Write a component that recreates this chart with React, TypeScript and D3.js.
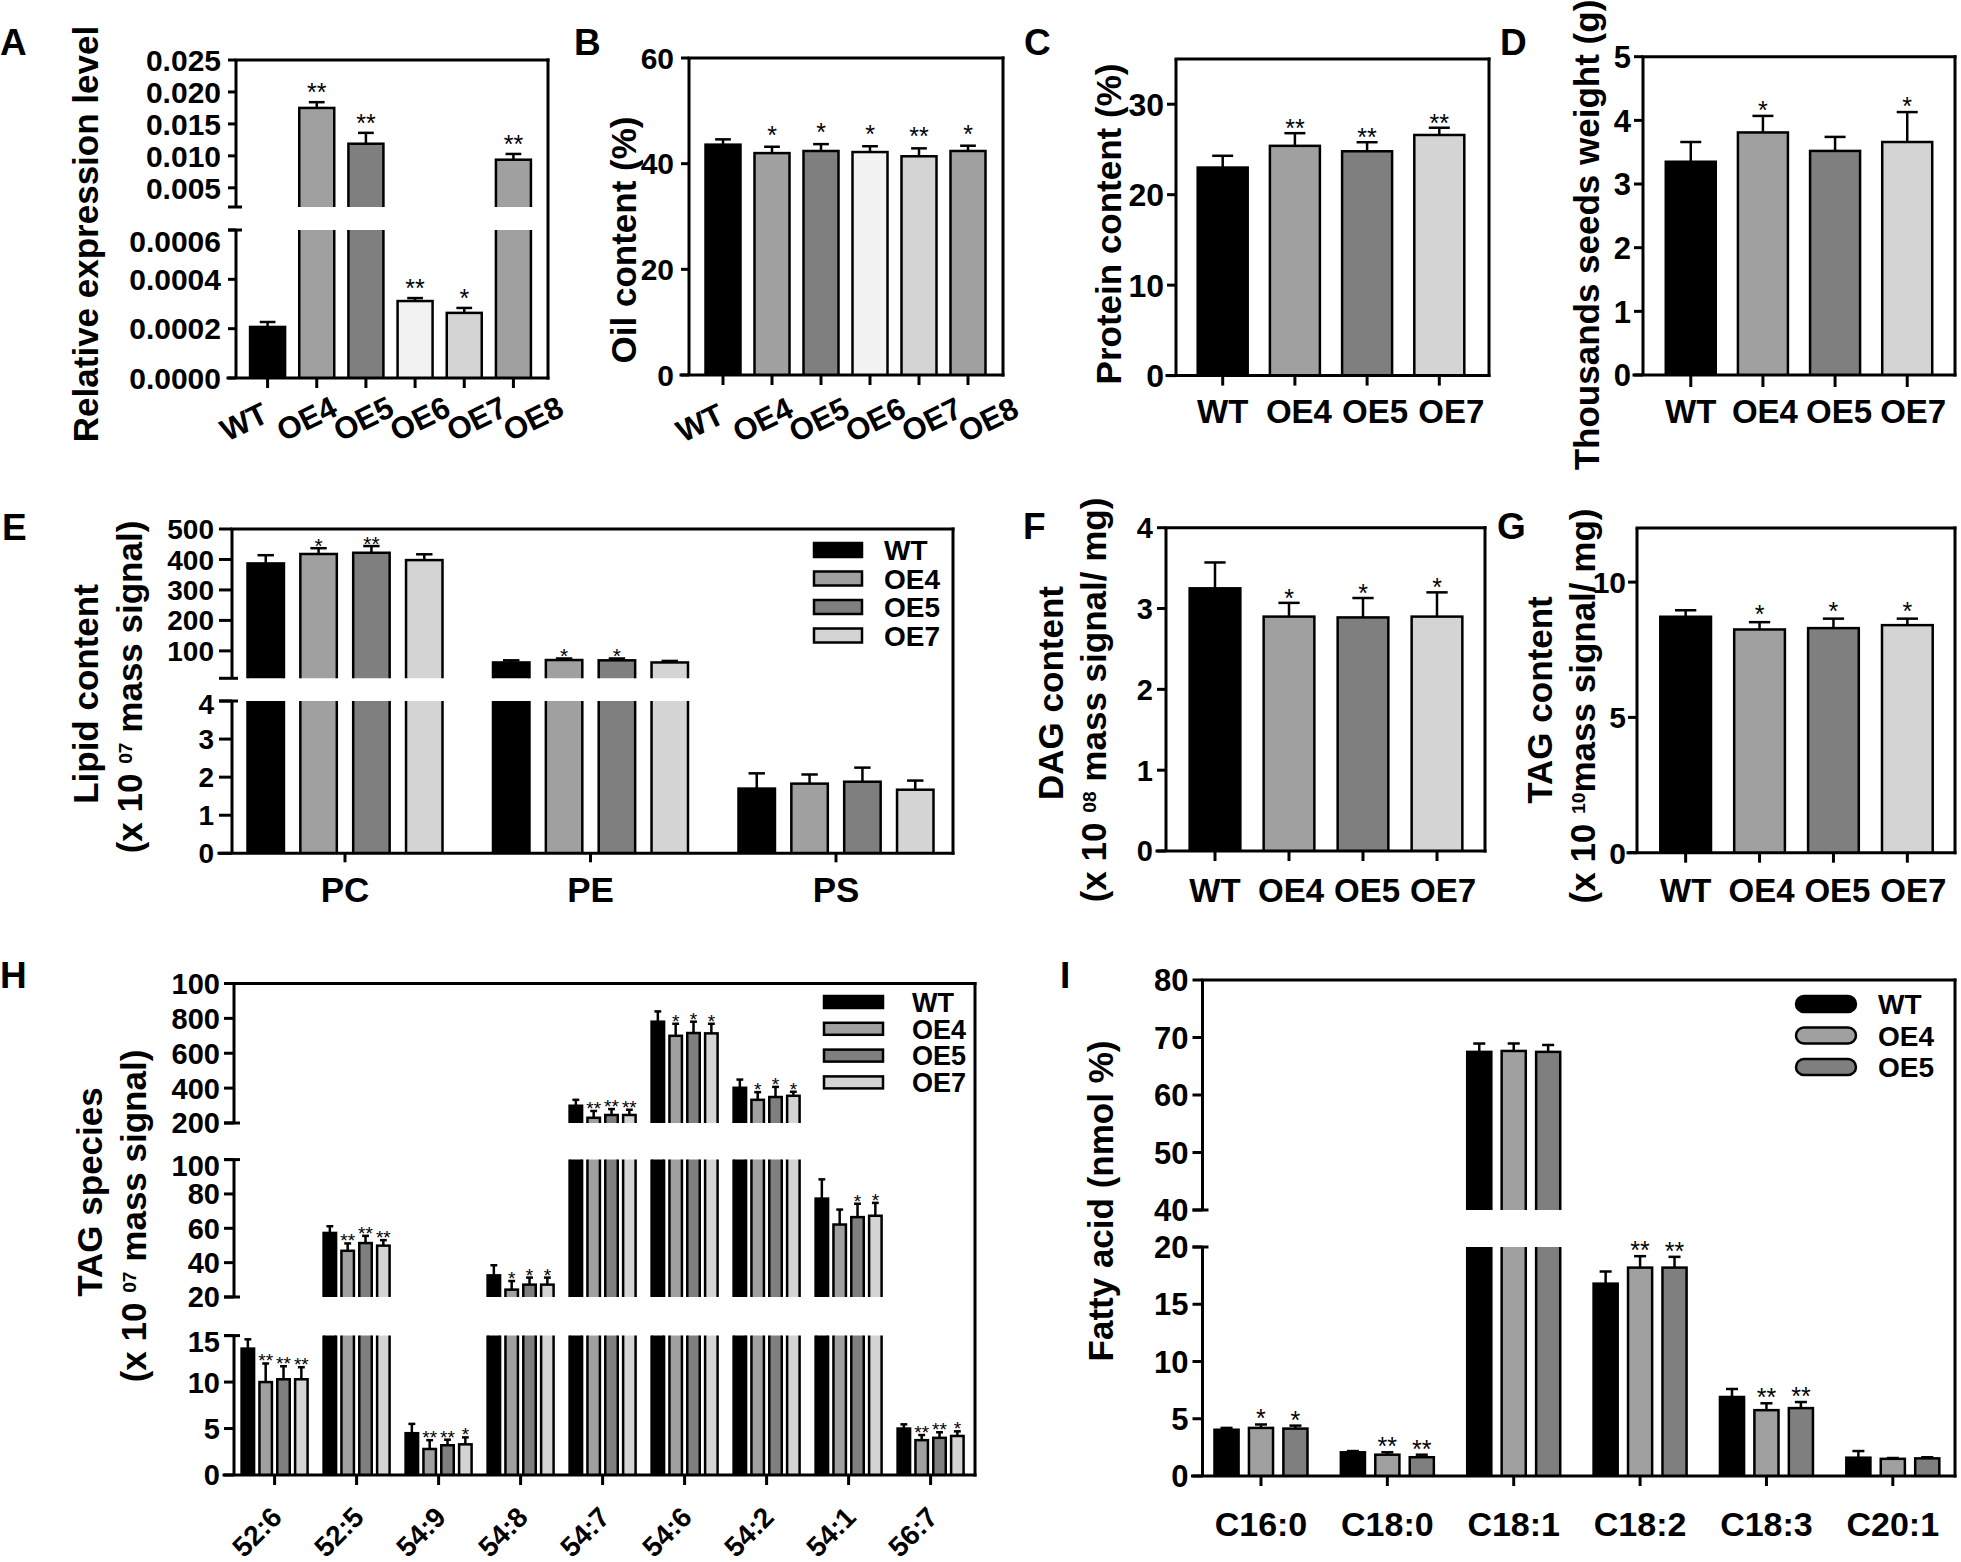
import React, { useEffect, useRef } from "react";
import * as d3 from "d3";

const FONT = "'Liberation Sans', Arial, Helvetica, sans-serif";

// colours
const colWT = "#000000";
const colOE4 = "#a0a0a0";
const colOE5 = "#7f7f7f";
const colOE6 = "#f2f2f2";
const colOE7 = "#d4d4d4";
const colOE8 = "#a0a0a0";

// ---- Panel A & B ----
const linesAB = ["WT", "OE4", "OE5", "OE6", "OE7", "OE8"];
const colorsAB = [colWT, colOE4, colOE5, colOE6, colOE7, colOE8];
const exprA = [0.000207, 0.0175, 0.0119, 0.000312, 0.000264, 0.0094];
const exprErrA = [0.00002, 0.0009, 0.0017, 0.000012, 0.00002, 0.0009];
const exprSigA = ["", "**", "**", "**", "*", "**"];
const ticksALow = [0, 0.0002, 0.0004, 0.0006];
const ticksAHigh = [0.005, 0.01, 0.015, 0.02, 0.025];

const oilB = [43.6, 42.0, 42.4, 42.2, 41.4, 42.4];
const oilErrB = [1.0, 1.2, 1.3, 1.1, 1.5, 1.0];
const oilSigB = ["", "*", "*", "*", "**", "*"];
const ticksB = [0, 20, 40, 60];

// ---- Panels C, D, F, G ----
const linesCD = ["WT", "OE4", "OE5", "OE7"];
const colorsCD = [colWT, colOE4, colOE5, colOE7];
const proteinC = [23.0, 25.4, 24.8, 26.6];
const proteinErrC = [1.3, 1.4, 1.0, 0.8];
const proteinSigC = ["", "**", "**", "**"];
const ticksC = [0, 10, 20, 30];

const weightD = [3.35, 3.81, 3.52, 3.66];
const weightErrD = [0.31, 0.26, 0.22, 0.47];
const weightSigD = ["", "*", "", "*"];
const ticksD = [0, 1, 2, 3, 4, 5];

const dagF = [3.25, 2.9, 2.89, 2.9];
const dagErrF = [0.32, 0.17, 0.24, 0.3];
const dagSigF = ["", "*", "*", "*"];
const ticksF = [0, 1, 2, 3, 4];

const tagG = [8.72, 8.25, 8.3, 8.41];
const tagErrG = [0.24, 0.27, 0.35, 0.24];
const tagSigG = ["", "*", "*", "*"];
const ticksG = [0, 5, 10];

// ---- Panel E ----
const lipidClasses = ["PC", "PE", "PS"];
const seriesNames = ["WT", "OE4", "OE5", "OE7"];
const seriesColors = [colWT, colOE4, colOE5, colOE7];
const lipidWT = [387, 62, 1.7];
const lipidOE4 = [418, 70, 1.83];
const lipidOE5 = [422, 69, 1.88];
const lipidOE7 = [398, 62, 1.67];
const lipidErrWT = [27, 7, 0.4];
const lipidErrOE4 = [19, 5, 0.24];
const lipidErrOE5 = [22, 6, 0.37];
const lipidErrOE7 = [19, 5, 0.24];
const lipidSigWT = ["", "", ""];
const lipidSigOE4 = ["*", "*", ""];
const lipidSigOE5 = ["**", "*", ""];
const lipidSigOE7 = ["", "", ""];
const ticksELow = [0, 1, 2, 3, 4];
const ticksEHigh = [100, 200, 300, 400, 500];

// ---- Panel H ----
const tagSpecies = ["52:6", "52:5", "54:9", "54:8", "54:7", "54:6", "54:2", "54:1", "56:7"];
const speciesWT = [13.6, 57.3, 4.5, 32.6, 299, 781, 402, 77.3, 5.0];
const speciesOE4 = [10.0, 46.9, 2.8, 24.3, 230, 700, 333, 62.2, 3.75];
const speciesOE5 = [10.3, 51.4, 3.2, 27.2, 246, 716, 349, 66.5, 4.0];
const speciesOE7 = [10.3, 49.9, 3.3, 27.2, 246, 714, 356, 67.3, 4.2];
const speciesErrWT = [1.0, 3.9, 1.0, 5.9, 34, 59, 47, 11.2, 0.45];
const speciesErrOE4 = [2.0, 4.3, 0.95, 5.0, 39, 69, 44, 8.7, 0.55];
const speciesErrOE5 = [1.4, 4.2, 0.6, 4.1, 34, 65, 58, 7.8, 0.6];
const speciesErrOE7 = [1.3, 3.2, 0.75, 4.1, 30, 55, 23, 7.5, 0.5];
const speciesSigWT = ["", "", "", "", "", "", "", "", ""];
const speciesSigOE4 = ["**", "**", "**", "*", "**", "*", "*", "", "**"];
const speciesSigOE5 = ["**", "**", "**", "*", "**", "*", "*", "*", "**"];
const speciesSigOE7 = ["**", "**", "*", "*", "**", "*", "*", "*", "*"];
const ticksHLow = [0, 5, 10, 15];
const ticksHMid = [20, 40, 60, 80, 100];
const ticksHHigh = [200, 400, 600, 800, 1000];
const tickLabelsHHigh = ["200", "400", "600", "800", "100"];

// ---- Panel I ----
const fattyAcids = ["C16:0", "C18:0", "C18:1", "C18:2", "C18:3", "C20:1"];
const faNames = ["WT", "OE4", "OE5"];
const faColors = [colWT, colOE4, colOE5];
const faWT = [4.04, 2.07, 67.5, 16.8, 6.9, 1.6];
const faOE4 = [4.2, 1.86, 67.66, 18.2, 5.75, 1.5];
const faOE5 = [4.14, 1.64, 67.5, 18.2, 5.93, 1.54];
const faErrWT = [0.16, 0.11, 1.45, 1.06, 0.7, 0.58];
const faErrOE4 = [0.3, 0.21, 1.3, 1.0, 0.6, 0.07];
const faErrOE5 = [0.26, 0.22, 1.2, 0.94, 0.53, 0.1];
const faSigWT = ["", "", "", "", "", ""];
const faSigOE4 = ["*", "**", "", "**", "**", ""];
const faSigOE5 = ["*", "**", "", "**", "**", ""];
const ticksILow = [0, 5, 10, 15, 20];
const ticksIHigh = [40, 50, 60, 70, 80];

function drawPanel(svg: any, defs: any, o: any) {
  const g = svg.append("g");
  const xb = d3.scaleBand().domain(o.cats).range(o.xRange);
  const step = xb.bandwidth();
  const nS = o.series.length;
  const inner = d3
    .scaleBand()
    .domain(d3.range(nS) as any)
    .range([-o.groupW / 2, o.groupW / 2])
    .paddingInner(nS > 1 ? o.innerPad : 0);
  const bw = inner.bandwidth();
  const cxOf = (c: string) => (xb(c) as number) + step / 2;
  const segs = o.segs;
  const nSeg = segs.length;
  const yBottom = segs[0].range[0];
  const yTop = segs[nSeg - 1].range[1];
  const scales = segs.map((s: any) => d3.scaleLinear().domain(s.domain).range(s.range));
  const segOf = (v: number) => {
    let idx = 0;
    segs.forEach((s: any, k: number) => {
      if (v >= s.domain[0]) idx = k;
    });
    return idx;
  };
  const lw = 3;
  const bsw = 2.5;

  // bars, clipped per axis segment
  segs.forEach((s: any, k: number) => {
    const y = scales[k];
    const cid = `clip-${o.id}-${k}`;
    defs
      .append("clipPath")
      .attr("id", cid)
      .append("rect")
      .attr("x", o.x0)
      .attr("y", s.range[1])
      .attr("width", o.x1 - o.x0)
      .attr("height", s.range[0] - s.range[1]);
    const gb = g.append("g").attr("clip-path", `url(#${cid})`);
    o.series.forEach((ser: any, si: number) => {
      o.cats.forEach((c: string, ci: number) => {
        const v = ser.values[ci];
        const yt = Math.max(y(v), s.range[1] - 10);
        const yb = s.range[0] + 10;
        if (yt >= yb) return;
        gb.append("rect")
          .attr("x", cxOf(c) + (inner(si as any) as number))
          .attr("y", yt)
          .attr("width", bw)
          .attr("height", yb - yt)
          .attr("fill", ser.colors ? ser.colors[ci] : ser.color)
          .attr("stroke", "#000")
          .attr("stroke-width", bsw);
      });
    });
  });

  // error bars + significance
  o.series.forEach((ser: any, si: number) => {
    o.cats.forEach((c: string, ci: number) => {
      const v = ser.values[ci];
      const k = segOf(v);
      const y = scales[k];
      const xm = cxOf(c) + (inner(si as any) as number) + bw / 2;
      const yv = y(v);
      const ye = y(v + ser.errs[ci]);
      const cap = bw * o.capFrac;
      g.append("line").attr("x1", xm).attr("x2", xm).attr("y1", yv).attr("y2", ye)
        .attr("stroke", "#000").attr("stroke-width", bsw);
      g.append("line").attr("x1", xm - cap / 2).attr("x2", xm + cap / 2).attr("y1", ye).attr("y2", ye)
        .attr("stroke", "#000").attr("stroke-width", bsw);
      if (ser.sigs[ci]) {
        g.append("text")
          .attr("x", xm)
          .attr("y", ye + o.sigDy)
          .attr("text-anchor", "middle")
          .attr("font-family", FONT)
          .attr("font-size", o.sigSize)
          .text(ser.sigs[ci]);
      }
    });
  });

  // y axis segments
  const ax = g.append("g").attr("stroke", "#000").attr("stroke-width", lw).attr("fill", "none");
  segs.forEach((s: any, k: number) => {
    const y = scales[k];
    ax.append("line").attr("x1", o.x0).attr("x2", o.x0).attr("y1", s.range[0]).attr("y2", s.range[1]);
    s.ticks.forEach((t: number, ti: number) => {
      const ty = y(t);
      ax.append("line").attr("x1", o.x0 - o.tickLen).attr("x2", o.x0).attr("y1", ty).attr("y2", ty);
      const lab = s.labels ? s.labels[ti] : s.fmt ? s.fmt(t) : String(t);
      const dy = ti === s.ticks.length - 1 && k < nSeg - 1 ? o.segTopDy || 0 : 0;
      g.append("text")
        .attr("x", o.x0 - o.tickLen - o.tickGap)
        .attr("y", ty + dy)
        .attr("dy", "0.36em")
        .attr("text-anchor", "end")
        .attr("font-family", FONT)
        .attr("font-weight", "bold")
        .attr("font-size", o.tickSize)
        .text(lab);
    });
    if (k > 0)
      ax.append("line").attr("x1", o.x0 - o.tickLen).attr("x2", o.x0 + 6).attr("y1", s.range[0]).attr("y2", s.range[0]);
    if (k < nSeg - 1)
      ax.append("line").attr("x1", o.x0 - o.tickLen).attr("x2", o.x0 + 6).attr("y1", s.range[1]).attr("y2", s.range[1]);
  });

  // frame
  ax.append("line").attr("x1", o.x0).attr("x2", o.x1).attr("y1", yTop).attr("y2", yTop).attr("stroke-linecap", "square");
  ax.append("line").attr("x1", o.x1).attr("x2", o.x1).attr("y1", yTop).attr("y2", yBottom).attr("stroke-linecap", "square");
  ax.append("line").attr("x1", o.x0 - o.tickLen).attr("x2", o.x1).attr("y1", yBottom).attr("y2", yBottom).attr("stroke-linecap", "square");

  // x ticks & labels
  o.cats.forEach((c: string, ci: number) => {
    const cx = cxOf(c);
    ax.append("line").attr("x1", cx).attr("x2", cx).attr("y1", yBottom).attr("y2", yBottom + o.xTickLen);
    const xl = o.xLabels;
    const t = g.append("text")
      .attr("font-family", FONT)
      .attr("font-weight", "bold")
      .attr("font-size", xl.size)
      .text(c);
    if (xl.mode === "flat") {
      t.attr("x", cx + ci * (xl.spread || 0)).attr("y", xl.y).attr("text-anchor", "middle");
    } else if (xl.mode === "rotStart") {
      const px = xl.x0 + ci * xl.step;
      t.attr("text-anchor", "start").attr("transform", `translate(${px},${xl.y}) rotate(${xl.angle})`);
    } else {
      t.attr("text-anchor", "end").attr("transform", `translate(${cx + xl.dx},${xl.y}) rotate(${xl.angle})`);
    }
  });

  // legend
  if (o.legend) {
    const L = o.legend;
    o.series.forEach((ser: any, si: number) => {
      const yc = L.y0 + si * L.dy;
      g.append("rect")
        .attr("x", L.x)
        .attr("y", yc - L.h / 2)
        .attr("width", L.w)
        .attr("height", L.h)
        .attr("rx", L.rx || 0)
        .attr("fill", ser.color)
        .attr("stroke", "#000")
        .attr("stroke-width", 2.5);
      g.append("text")
        .attr("x", L.textX)
        .attr("y", yc)
        .attr("dy", "0.36em")
        .attr("font-family", FONT)
        .attr("font-weight", "bold")
        .attr("font-size", L.size)
        .text(ser.name);
    });
  }
}

function yTitle(svg: any, x: number, y: number, parts: any[], size: number) {
  const t = svg
    .append("text")
    .attr("transform", `translate(${x},${y}) rotate(-90)`)
    .attr("text-anchor", "middle")
    .attr("dy", "0.35em")
    .attr("font-family", FONT)
    .attr("font-weight", "bold")
    .attr("font-size", size);
  parts.forEach((p: any) => {
    const ts = t.append("tspan").text(p.t);
    if (p.sup) ts.attr("baseline-shift", "super").attr("font-size", size * 0.55);
  });
}

function letter(svg: any, x: number, y: number, s: string) {
  svg.append("text").attr("x", x).attr("y", y).attr("font-family", FONT).attr("font-weight", "bold")
    .attr("font-size", 37).text(s);
}

function singleSeries(values: number[], errs: number[], sigs: string[], colors: string[]) {
  return [{ values, errs, sigs, colors }];
}

export default function App() {
  const ref = useRef<SVGSVGElement>(null);
  useEffect(() => {
    const svg = d3.select(ref.current);
    svg.selectAll("*").remove();
    svg.append("rect").attr("width", 1961).attr("height", 1562).attr("fill", "#fff");
    const defs = svg.append("defs");

    // A
    drawPanel(svg, defs, {
      id: "A", x0: 236, x1: 548, cats: linesAB, xRange: [243, 538], groupW: 35, innerPad: 0,
      series: singleSeries(exprA, exprErrA, exprSigA, colorsAB),
      segs: [
        { domain: [0, 0.0006], range: [378, 230], ticks: ticksALow, fmt: (d: number) => d.toFixed(4) },
        { domain: [0.002, 0.025], range: [207, 60], ticks: ticksAHigh, fmt: (d: number) => d.toFixed(3) },
      ],
      tickLen: 8, tickGap: 7, tickSize: 30, segTopDy: 11, xTickLen: 10,
      xLabels: { mode: "rotStart", x0: 227, step: 56.6, y: 442, angle: -26, size: 31 },
      sigSize: 25, sigDy: -1, capFrac: 0.45,
    });
    // B
    drawPanel(svg, defs, {
      id: "B", x0: 689, x1: 1003, cats: linesAB, xRange: [698.5, 992.5], groupW: 35, innerPad: 0,
      series: singleSeries(oilB, oilErrB, oilSigB, colorsAB),
      segs: [{ domain: [0, 60], range: [375, 58], ticks: ticksB }],
      tickLen: 8, tickGap: 7, tickSize: 30, xTickLen: 10,
      xLabels: { mode: "rotStart", x0: 683, step: 56.4, y: 443, angle: -26, size: 31 },
      sigSize: 25, sigDy: -3, capFrac: 0.45,
    });
    // C
    drawPanel(svg, defs, {
      id: "C", x0: 1176, x1: 1489, cats: linesCD, xRange: [1186.6, 1475.4], groupW: 50, innerPad: 0,
      series: singleSeries(proteinC, proteinErrC, proteinSigC, colorsCD),
      segs: [{ domain: [0, 35], range: [375.6, 59], ticks: ticksC }],
      tickLen: 9, tickGap: 3, tickSize: 32, xTickLen: 10,
      xLabels: { mode: "flat", y: 423, size: 33, spread: 4 },
      sigSize: 25, sigDy: 4, capFrac: 0.42,
    });
    // D
    drawPanel(svg, defs, {
      id: "D", x0: 1643, x1: 1955, cats: linesCD, xRange: [1654.7, 1943.3], groupW: 50, innerPad: 0,
      series: singleSeries(weightD, weightErrD, weightSigD, colorsCD),
      segs: [{ domain: [0, 5], range: [375, 56.7], ticks: ticksD }],
      tickLen: 9, tickGap: 3, tickSize: 31, xTickLen: 12,
      xLabels: { mode: "flat", y: 423, size: 33, spread: 2 },
      sigSize: 25, sigDy: 3, capFrac: 0.42,
    });
    // E
    drawPanel(svg, defs, {
      id: "E", x0: 232, x1: 953, cats: lipidClasses, xRange: [222.25, 958.75], groupW: 195, innerPad: 0.31,
      series: [
        { name: seriesNames[0], color: seriesColors[0], values: lipidWT, errs: lipidErrWT, sigs: lipidSigWT },
        { name: seriesNames[1], color: seriesColors[1], values: lipidOE4, errs: lipidErrOE4, sigs: lipidSigOE4 },
        { name: seriesNames[2], color: seriesColors[2], values: lipidOE5, errs: lipidErrOE5, sigs: lipidSigOE5 },
        { name: seriesNames[3], color: seriesColors[3], values: lipidOE7, errs: lipidErrOE7, sigs: lipidSigOE7 },
      ],
      segs: [
        { domain: [0, 4], range: [853.3, 701], ticks: ticksELow },
        { domain: [10, 500], range: [678.3, 529], ticks: ticksEHigh },
      ],
      tickLen: 13, tickGap: 5, tickSize: 28, segTopDy: 3, xTickLen: 9,
      xLabels: { mode: "flat", y: 902, size: 35 },
      sigSize: 21, sigDy: 5, capFrac: 0.45,
      legend: { x: 814, y0: 550, dy: 28.5, w: 48, h: 14, textX: 884, size: 28 },
    });
    // F
    drawPanel(svg, defs, {
      id: "F", x0: 1166, x1: 1485, cats: linesCD, xRange: [1178, 1474], groupW: 50.7, innerPad: 0,
      series: singleSeries(dagF, dagErrF, dagSigF, colorsCD),
      segs: [{ domain: [0, 4], range: [851, 527.7], ticks: ticksF }],
      tickLen: 9, tickGap: 4, tickSize: 29, xTickLen: 10,
      xLabels: { mode: "flat", y: 902, size: 33, spread: 2 },
      sigSize: 25, sigDy: 4, capFrac: 0.42,
    });
    // G
    drawPanel(svg, defs, {
      id: "G", x0: 1637, x1: 1955, cats: linesCD, xRange: [1648.7, 1944.3], groupW: 50.7, innerPad: 0,
      series: singleSeries(tagG, tagErrG, tagSigG, colorsCD),
      segs: [{ domain: [0, 12], range: [852.7, 528], ticks: ticksG }],
      tickLen: 9, tickGap: 2, tickSize: 30, xTickLen: 10,
      xLabels: { mode: "flat", y: 902, size: 33, spread: 2 },
      sigSize: 25, sigDy: 1, capFrac: 0.42,
    });
    // H
    drawPanel(svg, defs, {
      id: "H", x0: 234, x1: 975, cats: tagSpecies, xRange: [233.6, 971.6], groupW: 66, innerPad: 0.3,
      series: [
        { name: seriesNames[0], color: seriesColors[0], values: speciesWT, errs: speciesErrWT, sigs: speciesSigWT },
        { name: seriesNames[1], color: seriesColors[1], values: speciesOE4, errs: speciesErrOE4, sigs: speciesSigOE4 },
        { name: seriesNames[2], color: seriesColors[2], values: speciesOE5, errs: speciesErrOE5, sigs: speciesSigOE5 },
        { name: seriesNames[3], color: seriesColors[3], values: speciesOE7, errs: speciesErrOE7, sigs: speciesSigOE7 },
      ],
      segs: [
        { domain: [0, 15], range: [1475, 1335.6], ticks: ticksHLow },
        { domain: [20, 100], range: [1297, 1159.6], ticks: ticksHMid },
        { domain: [200, 1000], range: [1123, 983.5], ticks: ticksHHigh, labels: tickLabelsHHigh },
      ],
      tickLen: 10, tickGap: 4, tickSize: 29, segTopDy: 6, xTickLen: 10,
      xLabels: { mode: "rotEnd", dx: 9, y: 1519, angle: -45, size: 28 },
      sigSize: 19, sigDy: 4, capFrac: 0.55,
      legend: { x: 824, y0: 1002, dy: 26.8, w: 59, h: 12, textX: 912, size: 27 },
    });
    // I
    drawPanel(svg, defs, {
      id: "I", x0: 1202.5, x1: 1955, cats: fattyAcids, xRange: [1197.8, 1956], groupW: 93, innerPad: 0.3,
      series: [
        { name: faNames[0], color: faColors[0], values: faWT, errs: faErrWT, sigs: faSigWT },
        { name: faNames[1], color: faColors[1], values: faOE4, errs: faErrOE4, sigs: faSigOE4 },
        { name: faNames[2], color: faColors[2], values: faOE5, errs: faErrOE5, sigs: faSigOE5 },
      ],
      segs: [
        { domain: [0, 20], range: [1476, 1247], ticks: ticksILow },
        { domain: [40, 80], range: [1210, 980], ticks: ticksIHigh },
      ],
      tickLen: 10, tickGap: 4, tickSize: 31, segTopDy: 0, xTickLen: 10,
      xLabels: { mode: "flat", y: 1536, size: 34 },
      sigSize: 25, sigDy: 3, capFrac: 0.5,
      legend: { x: 1796, y0: 1004, dy: 31.5, w: 60, h: 16, rx: 8, textX: 1878, size: 28 },
    });

    // titles
    yTitle(svg, 86, 234, [{ t: "Relative expression level" }], 35);
    yTitle(svg, 624, 240, [{ t: "Oil content (%)" }], 35);
    yTitle(svg, 1109, 224, [{ t: "Protein content (%)" }], 35);
    yTitle(svg, 1587, 235, [{ t: "Thousands seeds weight (g)" }], 35);
    yTitle(svg, 86, 694, [{ t: "Lipid content" }], 35);
    yTitle(svg, 130, 687, [{ t: "(x 10 " }, { t: "07", sup: true }, { t: " mass signal)" }], 35);
    yTitle(svg, 1051, 693, [{ t: "DAG content" }], 35);
    yTitle(svg, 1094, 700, [{ t: "(x 10 " }, { t: "08", sup: true }, { t: " mass signal/ mg)" }], 35);
    yTitle(svg, 1540, 700, [{ t: "TAG content" }], 35);
    yTitle(svg, 1583, 706, [{ t: "(x 10 " }, { t: "10", sup: true }, { t: "mass signal/ mg)" }], 35);
    yTitle(svg, 90, 1192, [{ t: "TAG species" }], 35);
    yTitle(svg, 134, 1216, [{ t: "(x 10 " }, { t: "07", sup: true }, { t: " mass signal)" }], 35);
    yTitle(svg, 1101, 1201, [{ t: "Fatty acid (nmol %)" }], 35);

    // panel letters
    letter(svg, 0, 55, "A");
    letter(svg, 574, 55, "B");
    letter(svg, 1024, 55, "C");
    letter(svg, 1500, 55, "D");
    letter(svg, 2, 540, "E");
    letter(svg, 1023, 539, "F");
    letter(svg, 1497, 539, "G");
    letter(svg, 0, 988, "H");
    letter(svg, 1060, 988, "I");
  }, []);

  return (
    <svg
      ref={ref}
      width={1961}
      height={1562}
      style={{ position: "absolute", left: 0, top: 0, background: "#fff" }}
    />
  );
}
